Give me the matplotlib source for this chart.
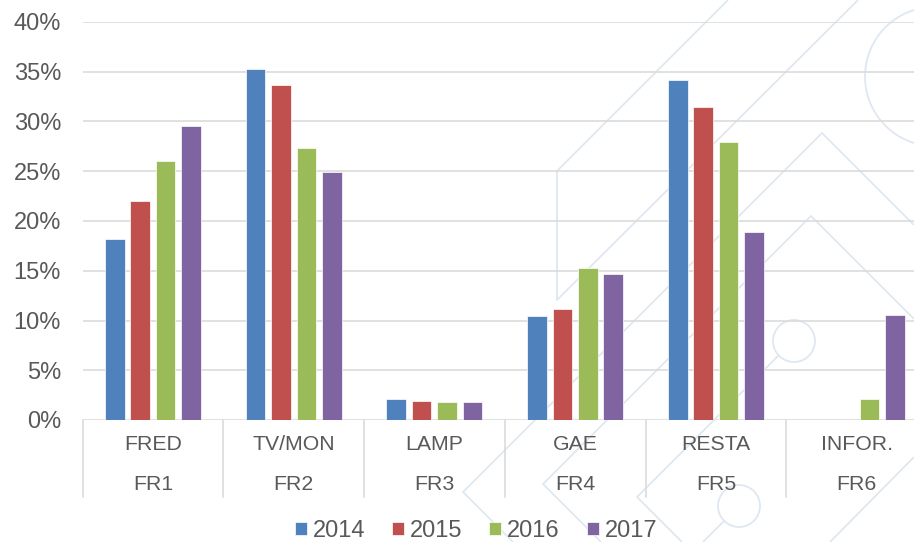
import matplotlib.pyplot as plt
import matplotlib.patches as mpatches
import numpy as np

plt.rcParams["font.family"] = ["Liberation Sans", "DejaVu Sans"]

# data
groups = ["FRED", "TV/MON", "LAMP", "GAE", "RESTA", "INFOR."]
codes = ["FR1", "FR2", "FR3", "FR4", "FR5", "FR6"]
years = ["2014", "2015", "2016", "2017"]
v2014 = [18.2, 35.3, 2.1, 10.5, 34.2, 0.0]
v2015 = [22.0, 33.7, 1.9, 11.2, 31.5, 0.0]
v2016 = [26.0, 27.3, 1.8, 15.3, 27.9, 2.15]
v2017 = [29.5, 24.9, 1.85, 14.7, 18.9, 10.6]
yticks = [0, 5, 10, 15, 20, 25, 30, 35, 40]

colors = ["#4F81BD", "#C0504D", "#9BBB59", "#8064A2"]
TXT = "#595959"
GRID = "#D9D9D9"
DECO = "#DFE7F1"

W, H = 914, 542
fig = plt.figure(figsize=(W / 100, H / 100), dpi=100)

# faint background ornament (pixel coordinates)
bg = fig.add_axes([0, 0, 1, 1], zorder=0)
bg.set_xlim(0, W)
bg.set_ylim(H, 0)
bg.axis("off")
deco_paths = [
    [(728, 0), (557, 171), (557, 300), (858, 0)],
    [(914, 225), (822, 133), (463, 492), (513, 542)],
    [(914, 319), (811, 216), (543, 484), (601, 542)],
    [(682, 542), (637, 497), (779, 355)],
    [(725, 520), (703, 542)],
    [(914, 457), (830, 542)],
]
for path in deco_paths:
    xs, ys = zip(*path)
    bg.plot(xs, ys, color=DECO, lw=1.3, solid_capstyle="butt")
for cx, cy, r in [(934.6, 76.5, 69.6), (794, 341, 21), (739, 506, 21)]:
    bg.add_patch(mpatches.Circle((cx, cy), r, fill=False, ec=DECO, lw=1.3))

left, right, bottom, top = 82.5, 927.0, 420.0, 22.0
ax = fig.add_axes([left / W, (H - bottom) / H, (right - left) / W, (bottom - top) / H], zorder=1)
ax.set_facecolor("none")

x = np.arange(len(groups))
pitch = 0.181
bw = 0.14
series = [v2014, v2015, v2016, v2017]
handles = []
for i, (vals, c) in enumerate(zip(series, colors)):
    b = ax.bar(x + (i - 1.5) * pitch, vals, width=bw, color=c,
               edgecolor="white", linewidth=0.5, zorder=3, label=years[i])
    handles.append(b)

ax.set_xlim(-0.5, len(groups) - 0.5)
ax.set_ylim(0, 40)
ax.set_yticks(yticks)
ax.set_yticklabels([f"{v}%" for v in yticks])
ax.tick_params(axis="y", length=0, pad=15.5, labelsize=17, labelcolor=TXT)
ax.set_xticks([])
for s in ax.spines.values():
    s.set_visible(False)
for v in yticks:
    ax.axhline(v, color=GRID, lw=1.1, zorder=1)

# two-level category axis
tr = ax.get_xaxis_transform()
for k in range(len(groups) + 1):
    ax.plot([k - 0.5, k - 0.5], [0, -0.193], transform=tr, color=GRID,
            lw=1.1, clip_on=False, zorder=2)
for k, (g, c) in enumerate(zip(groups, codes)):
    ax.text(k, -0.062, g, transform=tr, ha="center", va="center",
            fontsize=15.3, color=TXT)
    ax.text(k, -0.161, c, transform=tr, ha="center", va="center",
            fontsize=15.3, color=TXT)

leg = fig.legend(handles, years, loc="center", bbox_to_anchor=(476 / W, 11 / H),
                 ncol=4, frameon=False, fontsize=17, handlelength=0.5,
                 handleheight=0.5, handletextpad=0.25, columnspacing=1.15,
                 borderpad=0)
for t in leg.get_texts():
    t.set_color(TXT)

fig.savefig("out.png", dpi=100)
